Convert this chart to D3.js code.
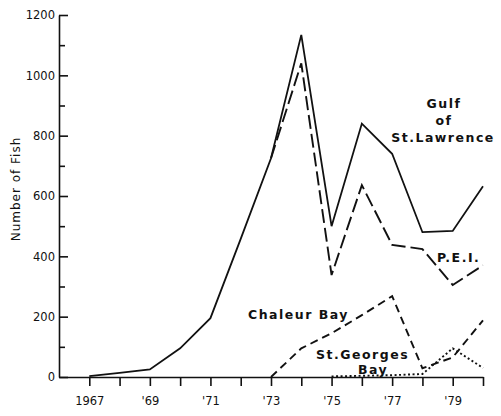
<!DOCTYPE html>
<html>
<head>
<meta charset="utf-8">
<script src="https://cdn.jsdelivr.net/npm/d3@7.9.0/dist/d3.min.js"></script>
<style>
  body { margin: 0; background: #fff; }
  svg { display: block; }
  .tick text { font-family: "DejaVu Sans", sans-serif; font-size: 11.5px; fill: #111; }
  .lbl { font-family: "DejaVu Sans", sans-serif; font-weight: bold; font-size: 12.5px; letter-spacing: 1.5px; fill: #111; }
</style>
</head>
<body>
<svg width="501" height="416"></svg>
<script>
// Data
const years = [1967, 1968, 1969, 1970, 1971, 1972, 1973, 1974, 1975, 1976, 1977, 1978, 1979, 1980];
const gulf = [3, 14, 25, 95, 195, 458, 725, 1134, 500, 840, 740, 480, 484, 632];

const peiYears = [1973, 1974, 1975, 1976, 1977, 1978, 1979, 1980];
const pei = [725, 1040, 338, 636, 438, 424, 305, 370];

const chaleurYears = [1973, 1974, 1975, 1976, 1977, 1978, 1979, 1980];
const chaleur = [0, 95, 145, 205, 268, 29, 65, 188];

const georgesYears = [1975, 1976, 1977, 1978, 1979, 1980];
const georges = [2, 4, 6, 10, 95, 30];

const xTickLabels = { 1967: "1967", 1969: "'69", 1971: "'71", 1973: "'73", 1975: "'75", 1977: "'77", 1979: "'79" };
const yTicks = [0, 200, 400, 600, 800, 1000, 1200];

const svg = d3.select("svg");

// scales
const x = d3.scaleLinear().domain([1966, 1980]).range([59, 483]);
const y = d3.scaleLinear().domain([0, 1200]).range([377, 15]);

// y axis, ticks pointing inwards
svg.append("g")
  .attr("transform", "translate(59,0)")
  .call(d3.axisLeft(y).tickValues(yTicks).tickFormat(d3.format("d"))
    .tickSizeInner(-9).tickSizeOuter(0).tickPadding(4));
// minor ticks at the hundreds
svg.append("g")
  .attr("transform", "translate(59,0)")
  .call(d3.axisLeft(y).tickValues(d3.range(100, 1200, 200)).tickSize(-6).tickFormat(""))
  .select(".domain").remove();

// x axis
svg.append("g")
  .attr("transform", "translate(0,377)")
  .call(d3.axisBottom(x).tickValues(years).tickSizeInner(9).tickSizeOuter(0).tickPadding(11)
    .tickFormat((d) => xTickLabels[d] || ""));

svg.selectAll(".domain, .tick line").attr("stroke", "#111").attr("stroke-width", 1.6);

// y title
svg.append("text")
  .attr("transform", "translate(20,189) rotate(-90)")
  .attr("text-anchor", "middle")
  .style("font-family", "DejaVu Sans, sans-serif")
  .style("font-size", "12px")
  .style("letter-spacing", "1px")
  .attr("fill", "#111")
  .text("Number of Fish");

// lines
const line = d3.line().x((d) => x(d[0])).y((d) => y(d[1]));

const series = [
  { xs: years, vals: gulf, dash: null, w: 1.8 },
  { xs: peiYears, vals: pei, dash: "14,5", w: 1.9 },
  { xs: chaleurYears, vals: chaleur, dash: "8,5", w: 1.9 },
  { xs: georgesYears, vals: georges, dash: "2,2.5", w: 1.9 },
];

series.forEach((s) => {
  svg.append("path")
    .datum(s.xs.map((yr, i) => [yr, s.vals[i]]))
    .attr("d", line)
    .attr("fill", "none")
    .attr("stroke", "#111")
    .attr("stroke-width", s.w)
    .attr("stroke-dasharray", s.dash);
});

// series labels
const labels = [
  { t: "Gulf", x: 444, y: 108, a: "middle" },
  { t: "of", x: 444, y: 125, a: "middle" },
  { t: "St.Lawrence", x: 443, y: 142, a: "middle" },
  { t: "P.E.I.", x: 437, y: 262, a: "start" },
  { t: "Chaleur Bay", x: 248, y: 319, a: "start" },
  { t: "St.Georges", x: 316, y: 359, a: "start" },
  { t: "Bay", x: 358, y: 374, a: "start" },
];

svg.selectAll(".lbl")
  .data(labels)
  .join("text")
  .attr("class", "lbl")
  .attr("x", (d) => d.x)
  .attr("y", (d) => d.y)
  .attr("text-anchor", (d) => d.a)
  .text((d) => d.t);
</script>
</body>
</html>
